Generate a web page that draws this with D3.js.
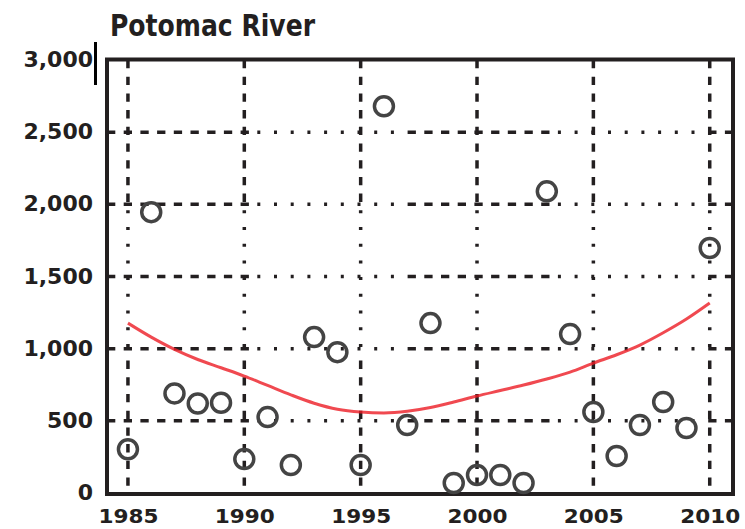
<!DOCTYPE html>
<html>
<head>
<meta charset="utf-8">
<script src="https://cdn.jsdelivr.net/npm/d3@7"></script>
<style>
  body { margin: 0; background: #fff; }
  svg { display: block; }
</style>
</head>
<body>
<div id="chart"></div>
<script>
let years = [1985, 1986, 1987, 1988, 1989, 1990, 1991, 1992, 1993, 1994, 1995, 1996, 1997,
    1998, 1999, 2000, 2001, 2002, 2003, 2004, 2005, 2006, 2007, 2008, 2009, 2010]

let flow = [303, 1946, 690, 620, 625, 235, 526, 194, 1080, 976, 194, 2680, 471,
    1177, 69, 125, 125, 69, 2090, 1101, 561, 256, 471, 630, 450, 1697]

let trend = [1177, 1080, 995, 925, 868, 810, 745, 680, 622, 580, 561, 555, 566,
    592, 630, 672, 710, 748, 790, 838, 900, 958, 1025, 1110, 1205, 1316]

let xTicks = [1985, 1990, 1995, 2000, 2005, 2010]
let yTicks = [0, 500, 1000, 1500, 2000, 2500, 3000]

let title = "Potomac River"

let width = 745,
    height = 529

let plot = { left: 107, right: 733, top: 60, bottom: 493 }
let ink = "#231f20"

let xScale = d3.scaleLinear()
    .domain([1984.1, 2011])
    .range([plot.left, plot.right])

let yScale = d3.scaleLinear()
    .domain([0, 3000])
    .range([plot.bottom, plot.top])

// dash sections followed by dot sections, like the original grid
let dashPattern = []
for (let i = 0; i < 9; i++) dashPattern.push(8.3, 8.4)
for (let i = 0; i < 9; i++) dashPattern.push(3, 13.7)

let svg = d3.select("#chart")
    .append("svg")
    .attr("width", width)
    .attr("height", height)

// vertical grid
svg.append("g")
    .selectAll("line")
    .data(xTicks)
    .enter()
    .append("line")
    .attr("x1", d => xScale(d))
    .attr("x2", d => xScale(d))
    .attr("y1", plot.top)
    .attr("y2", plot.bottom)
    .attr("stroke", ink)
    .attr("stroke-width", 3.5)
    .attr("stroke-dasharray", dashPattern.join(","))

// horizontal grid
svg.append("g")
    .selectAll("line")
    .data(yTicks.filter(d => d > 0 && d < 3000))
    .enter()
    .append("line")
    .attr("x1", plot.left)
    .attr("x2", plot.right)
    .attr("y1", d => yScale(d))
    .attr("y2", d => yScale(d))
    .attr("stroke", ink)
    .attr("stroke-width", 3.5)
    .attr("stroke-dasharray", dashPattern.join(","))

// frame
svg.append("rect")
    .attr("x", plot.left)
    .attr("y", plot.top - 0.5)
    .attr("width", plot.right - plot.left)
    .attr("height", plot.bottom - plot.top + 1.5)
    .attr("fill", "none")
    .attr("stroke", ink)
    .attr("stroke-width", 4)

// little stub next to the top label
svg.append("line")
    .attr("x1", 95.5)
    .attr("x2", 95.5)
    .attr("y1", yScale(3000) - 18)
    .attr("y2", yScale(3000) + 25)
    .attr("stroke", "#000")
    .attr("stroke-width", 3)

// axes (labels only)
let yAxis = d3.axisLeft(yScale)
    .tickValues(yTicks)
    .tickSize(0)
    .tickPadding(14)
    .tickFormat(d3.format(","))

let xAxis = d3.axisBottom(xScale)
    .tickValues(xTicks)
    .tickSize(0)
    .tickPadding(16)
    .tickFormat(d3.format("d"))

let gy = svg.append("g")
    .attr("transform", "translate(" + plot.left + ",0)")
    .call(yAxis)
gy.select(".domain").remove()
gy.selectAll("text")
    .attr("font-family", "DejaVu Sans")
    .attr("font-weight", "bold")
    .attr("font-size", 22)
    .attr("fill", ink)
    .attr("dy", "0.3em")

let gx = svg.append("g")
    .attr("transform", "translate(0," + plot.bottom + ")")
    .call(xAxis)
gx.select(".domain").remove()
gx.selectAll("text")
    .attr("font-family", "DejaVu Sans")
    .attr("font-weight", "bold")
    .attr("font-size", 20)
    .attr("dy", "0.72em")
    .attr("fill", ink)
    .attr("textLength", 60)
    .attr("lengthAdjust", "spacingAndGlyphs")

// trend line
let line = d3.line()
    .x((d, i) => xScale(years[i]))
    .y(d => yScale(d))
    .curve(d3.curveMonotoneX)

svg.append("path")
    .datum(trend)
    .attr("d", line)
    .attr("fill", "none")
    .attr("stroke", "#ec1c24")
    .attr("stroke-width", 3)
    .attr("stroke-opacity", 0.8)

// observations
svg.append("g")
    .selectAll("circle")
    .data(flow)
    .enter()
    .append("circle")
    .attr("cx", (d, i) => xScale(years[i]))
    .attr("cy", d => yScale(d))
    .attr("r", 9.5)
    .attr("fill", "none")
    .attr("stroke", "#444")
    .attr("stroke-width", 3.5)

// title
svg.append("text")
    .attr("x", 110)
    .attr("y", 36)
    .attr("font-family", "DejaVu Sans")
    .attr("font-weight", "bold")
    .attr("font-size", 30)
    .attr("fill", ink)
    .attr("textLength", 205)
    .attr("lengthAdjust", "spacingAndGlyphs")
    .text(title)
</script>
</body>
</html>
